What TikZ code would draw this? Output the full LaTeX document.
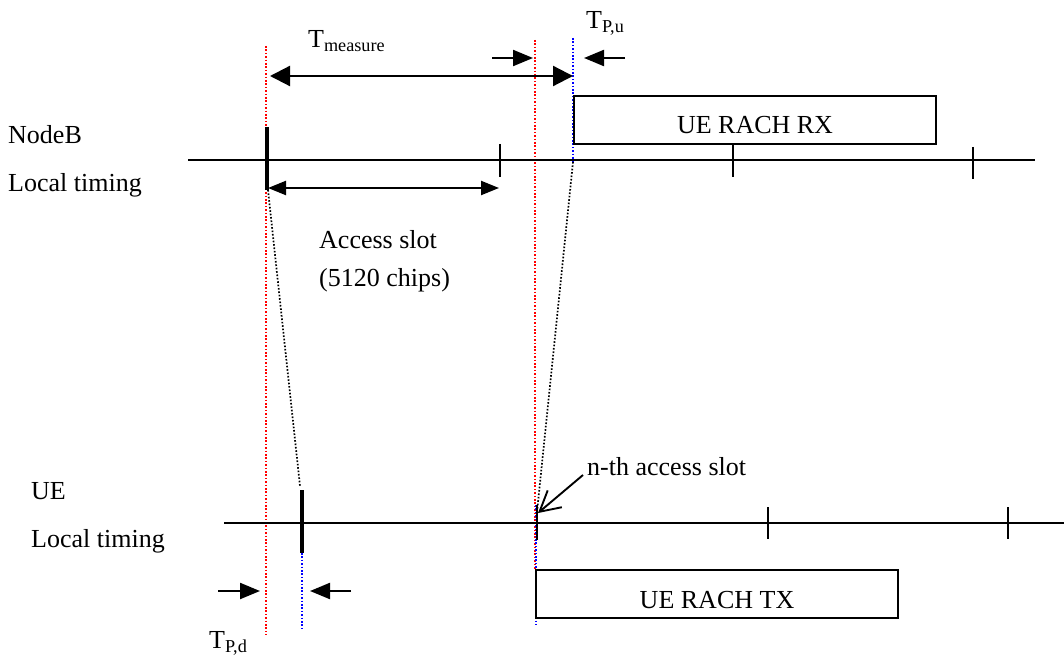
\documentclass[tikz,border=0pt]{standalone}
\usepackage{fontspec}
\setmainfont{Liberation Serif}
\usetikzlibrary{arrows.meta}
\begin{document}
\begin{tikzpicture}[x=1pt,y=-1pt,
  lbl/.style={font=\fontsize{26}{30}\selectfont, inner sep=0pt, anchor=base west},
  axisline/.style={line width=2.2pt},
  tickmark/.style={line width=2.2pt},
  thicktick/.style={line width=3.2pt},
  reddot/.style={red, line width=1.8pt, dash pattern=on 1.6pt off 1.8pt},
  bluedot/.style={blue, line width=1.8pt, dash pattern=on 1.6pt off 1.8pt},
  blackdot/.style={black, line width=1.7pt, dash pattern=on 1.6pt off 1.8pt},
  bigdouble/.style={line width=2.2pt, {Triangle[length=20pt,width=20pt]}-{Triangle[length=20pt,width=20pt]}},
  smalldouble/.style={line width=2.2pt, {Triangle[length=18pt,width=14pt]}-{Triangle[length=18pt,width=14pt]}},
  smallarrow/.style={line width=2.2pt, -{Triangle[length=20pt,width=16pt]}},
  barbarrow/.style={line width=1.9pt, -{Straight Barb[length=20pt,width=22pt,line width=1.9pt]}},
  slotbox/.style={draw, line width=2.2pt, rectangle, inner sep=0pt, font=\fontsize{26}{30}\selectfont, text depth=0pt}
]
\useasboundingbox (0,0) rectangle (1064,660);

% coordinates
\coordinate (nbL) at (188,160);
\coordinate (nbR) at (1035,160);
\coordinate (ueL) at (224,523);
\coordinate (ueR) at (1064,523);

% red dotted reference lines
\coordinate (r1t) at (266,46);
\coordinate (r1b) at (266,635);
\coordinate (r2t) at (535,40);
\coordinate (r2b) at (535,570);
\draw[reddot] (r1t) -- (r1b);
\draw[reddot] (r2t) -- (r2b);

% blue dotted lines
\coordinate (b1t) at (573,38);
\coordinate (b1b) at (573,162);
\coordinate (b2t) at (536,505);
\coordinate (b2b) at (536,625);
\coordinate (b3t) at (302,553);
\coordinate (b3b) at (302,630);
\draw[bluedot] (b1t) -- (b1b);
\draw[bluedot] (b2t) -- (b2b);
\draw[bluedot] (b3t) -- (b3b);

% black dotted slanted propagation lines
\coordinate (d1a) at (268,190);
\coordinate (d1b) at (300,486);
\coordinate (d2a) at (573,162);
\coordinate (d2b) at (537,512);
\draw[blackdot] (d1a) -- (d1b);
\draw[blackdot] (d2a) -- (d2b);

% time axes
\draw[axisline] (nbL) -- (nbR);
\draw[axisline] (ueL) -- (ueR);

% NodeB ticks
\coordinate (t0a) at (267,127); \coordinate (t0b) at (267,190);
\coordinate (t1a) at (500,144); \coordinate (t1b) at (500,177);
\coordinate (t2a) at (733,145); \coordinate (t2b) at (733,177);
\coordinate (t3a) at (973,147); \coordinate (t3b) at (973,179);
\draw[thicktick] (t0a) -- (t0b);
\draw[tickmark] (t1a) -- (t1b);
\draw[tickmark] (t2a) -- (t2b);
\draw[tickmark] (t3a) -- (t3b);

% UE ticks
\coordinate (u0a) at (302,490); \coordinate (u0b) at (302,553);
\coordinate (u1a) at (537,505); \coordinate (u1b) at (537,540);
\coordinate (u2a) at (768,507); \coordinate (u2b) at (768,539);
\coordinate (u3a) at (1008,507); \coordinate (u3b) at (1008,539);
\draw[thicktick] (u0a) -- (u0b);
\draw[tickmark] (u1a) -- (u1b);
\draw[tickmark] (u2a) -- (u2b);
\draw[tickmark] (u3a) -- (u3b);

% boxes
\node[slotbox, minimum width=362pt, minimum height=48pt, text height=27pt] (rx) at (755,120) {UE RACH RX};
\node[slotbox, minimum width=362pt, minimum height=48pt, text height=28pt] (tx) at (717,594) {UE RACH TX};

% labels
\node[lbl] (nodeb) at (8,144) {NodeB};
\node[lbl] (nbloc) at (8,192) {Local timing};
\node[lbl] (ue) at (31,499) {UE};
\node[lbl] (ueloc) at (31,547) {Local timing};
\node[lbl] (acc) at (319,248) {Access slot};
\node[lbl] (chips) at (319,286) {(5120 chips)};
\node[lbl] (tmeas) at (308,48) {T\textsubscript{measure}};
\node[lbl] (tpu) at (586,29) {T\textsubscript{P,u}};
\node[lbl] (tpd) at (209,648) {T\textsubscript{P,d}};
\node[lbl] (nth) at (587,475) {n-th access slot};

% T_measure arrow
\coordinate (tmL) at (270,76);
\coordinate (tmR) at (573,76);
\draw[bigdouble] (tmL) -- (tmR);

% access slot arrow
\coordinate (asL) at (268,188);
\coordinate (asR) at (499,188);
\draw[smalldouble] (asL) -- (asR);

% T_P,u arrows
\coordinate (pu1s) at (492,58); \coordinate (pu1e) at (533,58);
\coordinate (pu2s) at (625,58); \coordinate (pu2e) at (584,58);
\draw[smallarrow] (pu1s) -- (pu1e);
\draw[smallarrow] (pu2s) -- (pu2e);

% T_P,d arrows
\coordinate (pd1s) at (218,591); \coordinate (pd1e) at (260,591);
\coordinate (pd2s) at (351,591); \coordinate (pd2e) at (310,591);
\draw[smallarrow] (pd1s) -- (pd1e);
\draw[smallarrow] (pd2s) -- (pd2e);

% n-th access slot pointer
\coordinate (nthS) at (583,475);
\coordinate (nthE) at (538,513);
\draw[barbarrow] (nthS) -- (nthE);
\end{tikzpicture}
\end{document}
